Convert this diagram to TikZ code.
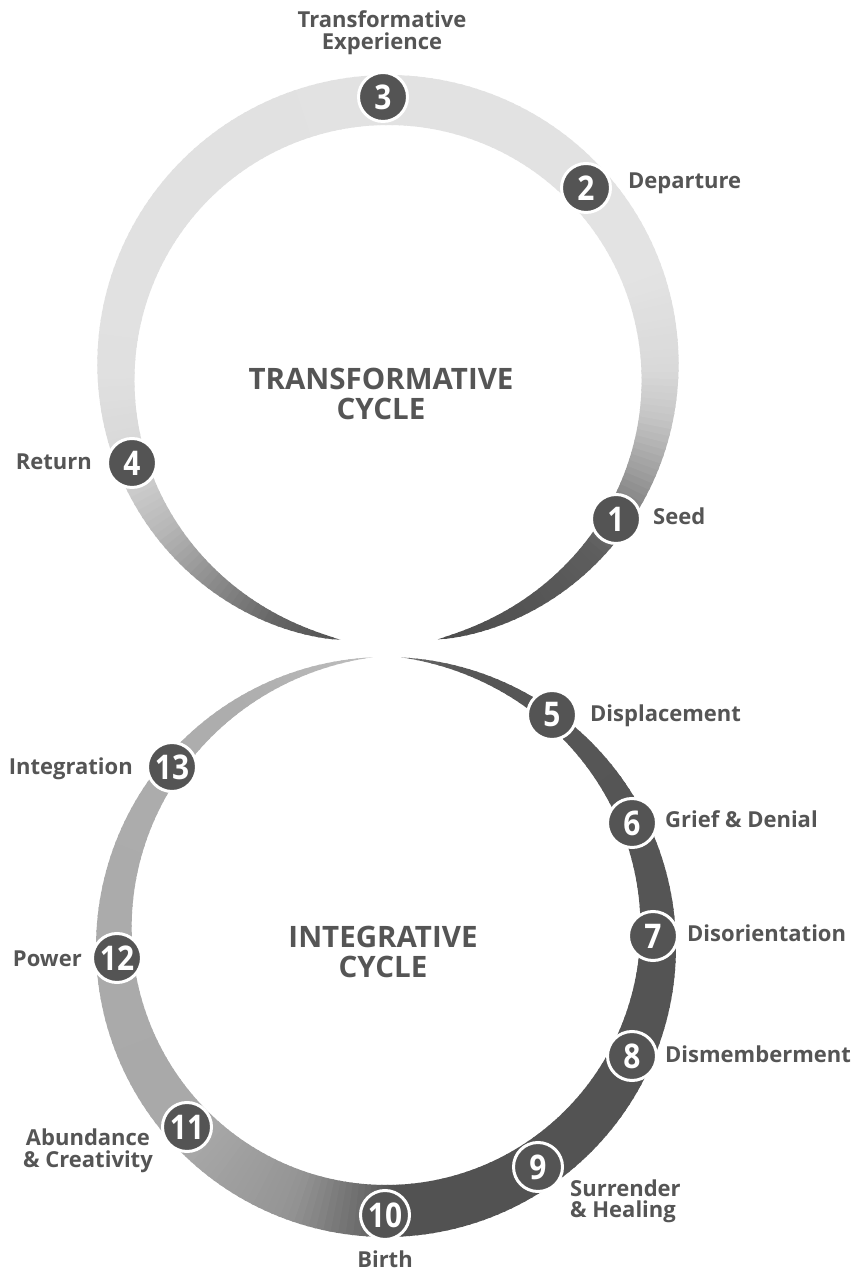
\documentclass[tikz,border=0pt]{standalone}
\usepackage{fontspec}
\setmainfont{Open Sans}
\usepackage{graphicx}
\definecolor{ink}{HTML}{555555}
\definecolor{badgefill}{HTML}{545454}
\newcommand\badgenum[1]{\scalebox{0.88}[1]{#1}}

\begin{document}
\begin{tikzpicture}[x=1pt,y=1pt,
  badge/.style={circle, fill=badgefill, draw=white, line width=3pt,
    minimum size=49pt, inner sep=0pt, text=white,
    font=\fontsize{34}{34}\selectfont\bfseries},
  lbl/.style={text=ink, font=\fontsize{22}{22}\selectfont\bfseries, inner sep=0pt},
  cycletitle/.style={text=ink, font=\fontsize{29.5}{30}\selectfont\bfseries,
    inner sep=0pt, align=center},
]
\useasboundingbox (0,0) rectangle (852,1274);
\fill[white] (0,0) rectangle (852,1274);

% ---- transformative ring: tapered band, light at the top, dark at both tails
\coordinate (tc) at (388,902);
\foreach \a/\b/\ga/\gb in {280.5/300/30/33, 300/320/33/37, 320/330/37/50,
    330/340/50/64, 340/350/64/77, 350/360/77/85, 360/380/85/89, 380/540/89/88,
    540/560/88/84, 560/575/84/72, 575/590/72/55, 590/605/55/40, 605/619.5/40/32} {
  \pgfmathtruncatemacro\n{max(1,round(abs(\b-\a)/1.5))}
  \pgfmathsetmacro\da{(\b-\a)/\n}
  \pgfmathsetmacro\dg{(\gb-\ga)/\n}
  \foreach \k in {1,...,\n} {
    \pgfmathsetmacro\ta{\a+\da*(\k-1)}
    \pgfmathsetmacro\tb{\a+\da*\k}
    \pgfmathsetmacro\te{\tb+0.4}
    \pgfmathsetmacro\gm{\ga+\dg*(\k-0.5)}
    \pgfmathsetmacro\sa{max(sin((\ta-280.5)*0.53097),0)}
    \pgfmathsetmacro\sb{max(sin((\tb-280.5)*0.53097),0)}
    \pgfmathsetmacro\wa{25*sqrt(\sa*sqrt(\sa))}
    \pgfmathsetmacro\wb{25*sqrt(\sb*sqrt(\sb))}
    \pgfmathsetmacro\roa{272+\wa}
    \pgfmathsetmacro\ria{272-\wa}
    \pgfmathsetmacro\rob{272+\wb}
    \pgfmathsetmacro\rib{272-\wb}
    \fill[white!\gm!black, shift={(tc)}]
      (\ta:\roa) -- (\te:\rob) -- (\te:\rib) -- (\ta:\ria) -- cycle;
  }
}

% ---- integrative ring: outer edge circular, widest at the bottom
\coordinate (bc) at (386,327);
\foreach \a/\b/\ga/\gb in {87/75/42/34, 75/-88/34/32, -88/-95/32/42,
    -95/-110/42/58, -110/-135/58/66, -135/-240/66/68, -240/-267/68/74} {
  \pgfmathtruncatemacro\n{max(1,round(abs(\b-\a)/1.5))}
  \pgfmathsetmacro\da{(\b-\a)/\n}
  \pgfmathsetmacro\dg{(\gb-\ga)/\n}
  \foreach \k in {1,...,\n} {
    \pgfmathsetmacro\ta{\a+\da*(\k-1)}
    \pgfmathsetmacro\tb{\a+\da*\k}
    \pgfmathsetmacro\te{\tb-0.4}
    \pgfmathsetmacro\gm{\ga+\dg*(\k-0.5)}
    \pgfmathsetmacro\ria{290-52*max(sin((87-\ta)*0.50847),0)}
    \pgfmathsetmacro\rib{290-52*max(sin((87-\tb)*0.50847),0)}
    \fill[white!\gm!black, shift={(bc)}]
      (\ta:290) -- (\te:290) -- (\te:\rib) -- (\ta:\ria) -- cycle;
  }
}

% ---- titles (base anchor sits on the last line)
\node[cycletitle, anchor=base] (tt) at (381,854) {TRANSFORMATIVE\\CYCLE};
\node[cycletitle, anchor=base] (it) at (383,296) {INTEGRATIVE\\CYCLE};

% ---- stage badges
\node[badge] (b1) at (616,755) {\badgenum{1}};
\node[badge] (b2) at (586,1086) {\badgenum{2}};
\node[badge] (b3) at (383,1177) {\badgenum{3}};
\node[badge] (b4) at (132,811) {\badgenum{4}};
\node[badge] (b5) at (552,559) {\badgenum{5}};
\node[badge] (b6) at (632,451) {\badgenum{6}};
\node[badge] (b7) at (653,338) {\badgenum{7}};
\node[badge] (b8) at (632,218) {\badgenum{8}};
\node[badge] (b9) at (538,107) {\badgenum{9}};
\node[badge] (b10) at (385,59) {\badgenum{10}};
\node[badge] (b11) at (187,147) {\badgenum{11}};
\node[badge] (b12) at (117,316) {\badgenum{12}};
\node[badge] (b13) at (172,507) {\badgenum{13}};

% ---- stage labels
\node[lbl, anchor=base west] (l1) at (653,749) {Seed};
\node[lbl, anchor=base west] (l2) at (628,1085) {Departure};
\node[lbl, anchor=base, align=center] (l3) at (382,1224) {Transformative\\Experience};
\node[lbl, anchor=base east] (l4) at (92,804) {Return};
\node[lbl, anchor=base west] (l5) at (590,552) {Displacement};
\node[lbl, anchor=base west] (l6) at (665,446) {Grief \& Denial};
\node[lbl, anchor=base west] (l7) at (687,332) {Disorientation};
\node[lbl, anchor=base west] (l8) at (665,211) {Dismemberment};
\node[lbl, anchor=base west, align=left] (l9) at (570,56) {Surrender\\\& Healing};
\node[lbl, anchor=base] (l10) at (385,6) {Birth};
\node[lbl, anchor=base east, align=center] (l11) at (153,106) {Abundance\\\& Creativity};
\node[lbl, anchor=base east] (l12) at (82,307) {Power};
\node[lbl, anchor=base east] (l13) at (133,499) {Integration};
\end{tikzpicture}
\end{document}
